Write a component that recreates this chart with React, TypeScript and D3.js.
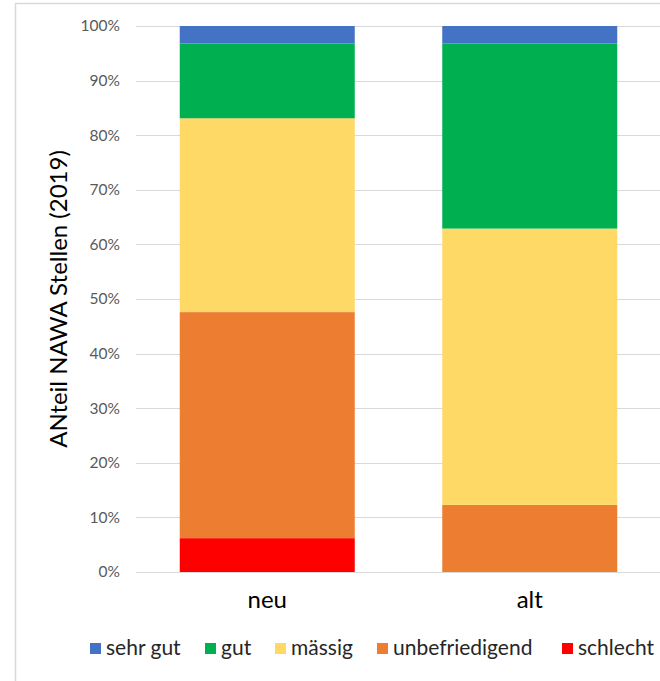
import React from "react";
import * as d3 from "d3";

const categories = ["neu", "alt"];
const seriesNames = ["schlecht", "unbefriedigend", "mässig", "gut", "sehr gut"];
const seriesColors = ["#FF0000", "#ED7D31", "#FFD966", "#00B050", "#4472C4"];
const neuValues = [0.062, 0.414, 0.355, 0.137, 0.032];
const altValues = [0.0, 0.123, 0.506, 0.339, 0.032];
const yTicks = [0, 0.1, 0.2, 0.3, 0.4, 0.5, 0.6, 0.7, 0.8, 0.9, 1.0];
const legendOrder = ["sehr gut", "gut", "mässig", "unbefriedigend", "schlecht"];
const yTitle = "ANteil NAWA Stellen (2019)";

const FONT = "Lato, 'Open Sans', sans-serif";

export default function App() {
  const W = 660, H = 681;
  const x = d3.scaleBand<string>().domain(categories).range([136, 661]).paddingInner(1 / 3).paddingOuter(1 / 6);
  const y = d3.scaleLinear().domain([0, 1]).range([572, 26]);
  const table = categories.map((c, i) => {
    const vals = i === 0 ? neuValues : altValues;
    const row: any = { cat: c };
    seriesNames.forEach((s, j) => (row[s] = vals[j]));
    return row;
  });
  const stack = d3.stack().keys(seriesNames)(table);
  const fmt = d3.format(".0%");

  const legendX = [90, 205, 275, 377, 562];

  return (
    <svg width={W} height={H} style={{ position: "absolute", left: 0, top: 0, background: "#fff" }}>
      <rect x={0} y={0} width={W} height={H} fill="#fff" />
      <rect x={15.5} y={3.5} width={700} height={700} fill="none" stroke="#d9d9d9" strokeWidth={1.5} />
      {yTicks.map((t) => (
        <g key={t}>
          <line x1={136} x2={661} y1={Math.round(y(t)) + 0.5} y2={Math.round(y(t)) + 0.5} stroke="#d9d9d9" strokeWidth={1} />
          <text x={120} y={y(t)} dy="0.35em" textAnchor="end" fontFamily={FONT} fontSize={15.5} fill="#595959">
            {fmt(t)}
          </text>
        </g>
      ))}
      {stack.map((layer, j) => (
        <g key={seriesNames[j]} fill={seriesColors[j]}>
          {layer.map((d, i) => (
            <rect
              key={i}
              x={x(categories[i])}
              width={x.bandwidth()}
              y={y(d[1])}
              height={Math.max(0, y(d[0]) - y(d[1]))}
            />
          ))}
        </g>
      ))}
      {categories.map((c) => (
        <text key={c} x={(x(c) as number) + x.bandwidth() / 2} y={608} textAnchor="middle" fontFamily={FONT} fontSize={24} fill="#000">
          {c}
        </text>
      ))}
      <text
        transform={`translate(67,299) rotate(-90)`}
        textAnchor="middle"
        fontFamily={FONT}
        fontSize={24}
        fill="#000"
      >
        {yTitle}
      </text>
      {legendOrder.map((name, k) => {
        const j = seriesNames.indexOf(name);
        return (
          <g key={name} transform={`translate(${legendX[k]},0)`}>
            <rect x={0} y={643} width={11} height={11} fill={seriesColors[j]} />
            <text x={16} y={655} fontFamily={FONT} fontSize={21} fill="#262626">
              {name}
            </text>
          </g>
        );
      })}
    </svg>
  );
}
